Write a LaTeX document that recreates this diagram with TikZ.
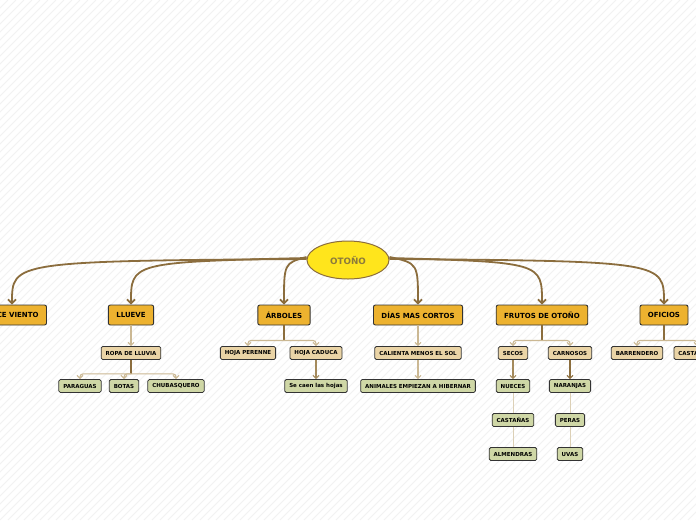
\documentclass[tikz,border=0pt]{standalone}
\usepackage{fontspec}
\setmainfont{DejaVu Sans}
\usetikzlibrary{arrows.meta,shapes.geometric}
\definecolor{brn}{HTML}{8B6D3D}
\definecolor{midb}{HTML}{A48A5C}
\definecolor{ltan}{HTML}{CBB893}
\definecolor{vlt}{HTML}{DCD0B6}
\definecolor{dk}{HTML}{333333}
\definecolor{orng}{HTML}{EDB22F}
\definecolor{tanf}{HTML}{EAD4A6}
\definecolor{grnf}{HTML}{CFD7A6}
\definecolor{yel}{HTML}{FFE51C}
\definecolor{otxt}{HTML}{8C7A3C}
\definecolor{stripe}{HTML}{F2F2F2}
\tikzset{
  lone/.style={draw=dk, fill=orng, rounded corners=2pt, line width=0.9pt, minimum height=20pt, inner xsep=8pt, inner ysep=0pt, font=\fontsize{7}{7}\selectfont\bfseries},
  ltwo/.style={draw=dk, fill=tanf, rounded corners=1.5pt, line width=0.8pt, minimum height=13pt, inner xsep=4.5pt, inner ysep=0pt, font=\fontsize{5.5}{5.5}\selectfont\bfseries},
  lthree/.style={ltwo, fill=grnf},
  mainedge/.style={draw=brn, line width=1.8pt, -{Straight Barb[length=4pt,width=8pt]}},
  subedge/.style={line width=1.1pt, -{Straight Barb[length=3pt,width=6pt]}},
  stubedge/.style={draw=brn, line width=1.1pt},
  branchedge/.style={draw=ltan, line width=1.1pt, rounded corners=3pt, -{Straight Barb[length=3pt,width=6pt]}},
  plainedge/.style={draw=vlt, line width=1pt}
}
\begin{document}
\begin{tikzpicture}[x=1pt,y=-1pt]
\useasboundingbox (0,0) rectangle (696,520);
\clip (0,0) rectangle (696,520);
\fill[white] (0,0) rectangle (696,520);
\foreach \i in {-520,-512,...,696} \draw[stripe, line width=0.8pt] (\i,520) -- (\i+520,0);

% root
\node[ellipse, draw=brn, fill=yel, line width=1pt, minimum width=82pt, minimum height=38pt, inner sep=0pt, text=otxt, font=\fontsize{8.8}{8.8}\selectfont\bfseries] (o) at (348,260) {OTOÑO};

% level 1
\node[lone] (hv) at (12,315) {HACE VIENTO};
\node[lone] (ll) at (131,315) {LLUEVE};
\node[lone] (ar) at (284,315) {ÁRBOLES};
\node[lone] (dm) at (418,315) {DÍAS MAS CORTOS};
\node[lone] (fr) at (542,315) {FRUTOS DE OTOÑO};
\node[lone] (of) at (664,315) {OFICIOS};

% level 2
\node[ltwo] (rl) at (131,353) {ROPA DE LLUVIA};
\node[ltwo] (hp) at (248,353) {HOJA PERENNE};
\node[ltwo] (hc) at (316,353) {HOJA CADUCA};
\node[ltwo] (cs) at (418,353) {CALIENTA MENOS EL SOL};
\node[ltwo] (se) at (513,353) {SECOS};
\node[ltwo] (ca) at (570,353) {CARNOSOS};
\node[ltwo] (ba) at (637,353) {BARRENDERO};
\node[ltwo] (ct) at (697,353) {CASTAÑERO};

% level 3
\node[lthree] (pa) at (80,386) {PARAGUAS};
\node[lthree] (bo) at (124,386) {BOTAS};
\node[lthree] (ch) at (176,386) {CHUBASQUERO};
\node[lthree] (sc) at (316,386) {Se caen las hojas};
\node[lthree] (an) at (418,386) {ANIMALES EMPIEZAN A HIBERNAR};
\node[lthree] (nu) at (513,386) {NUECES};
\node[lthree] (na) at (570,386) {NARANJAS};
\node[lthree] (cn) at (513,420) {CASTAÑAS};
\node[lthree] (pe) at (570,420) {PERAS};
\node[lthree] (al) at (513,454) {ALMENDRAS};
\node[lthree] (uv) at (570,454) {UVAS};

% main connectors
\draw[mainedge] ([yshift=1pt]o.west) .. controls (12,261) and (12,262) .. (hv.north);
\draw[mainedge] ([yshift=2pt]o.west) .. controls (131,262) and (131,263) .. (ll.north);
\draw[mainedge] ([yshift=3pt]o.west) .. controls (284,263) and (284,264) .. (ar.north);
\draw[mainedge] ([yshift=3pt]o.east) .. controls (418,263) and (418,264) .. (dm.north);
\draw[mainedge] ([yshift=2pt]o.east) .. controls (542,262) and (542,263) .. (fr.north);
\draw[mainedge] ([yshift=1pt]o.east) .. controls (664,261) and (664,262) .. (of.north);

% level1 -> level2
\draw[subedge, draw=ltan] (ll) -- (rl);
\draw[subedge, draw=ltan] (dm) -- (cs);
\draw[stubedge] (ar.south) -- ++(0,15) coordinate (arj);
\draw[branchedge] (arj) -| (hp.north);
\draw[branchedge] (arj) -| (hc.north);
\draw[stubedge] (fr.south) -- ++(0,15) coordinate (frj);
\draw[branchedge] (frj) -| (se.north);
\draw[branchedge] (frj) -| (ca.north);
\draw[stubedge] (of.south) -- ++(0,15) coordinate (ofj);
\draw[branchedge] (ofj) -| (ba.north);
\draw[branchedge] (ofj) -| (ct.north);

% level2 -> level3
\draw[stubedge] (rl.south) -- ++(0,14) coordinate (rlj);
\draw[branchedge] (rlj) -| (pa.north);
\draw[branchedge] (rlj) -| (bo.north);
\draw[branchedge] (rlj) -| (ch.north);
\draw[subedge, draw=midb] (hc) -- (sc);
\draw[subedge, draw=ltan] (cs) -- (an);
\draw[subedge, draw=midb] (se) -- (nu);
\draw[subedge, draw=brn] (ca) -- (na);

% deeper
\draw[plainedge] (nu) -- (cn);
\draw[plainedge] (cn) -- (al);
\draw[plainedge] (na) -- (pe);
\draw[plainedge] (pe) -- (uv);
\end{tikzpicture}
\end{document}
